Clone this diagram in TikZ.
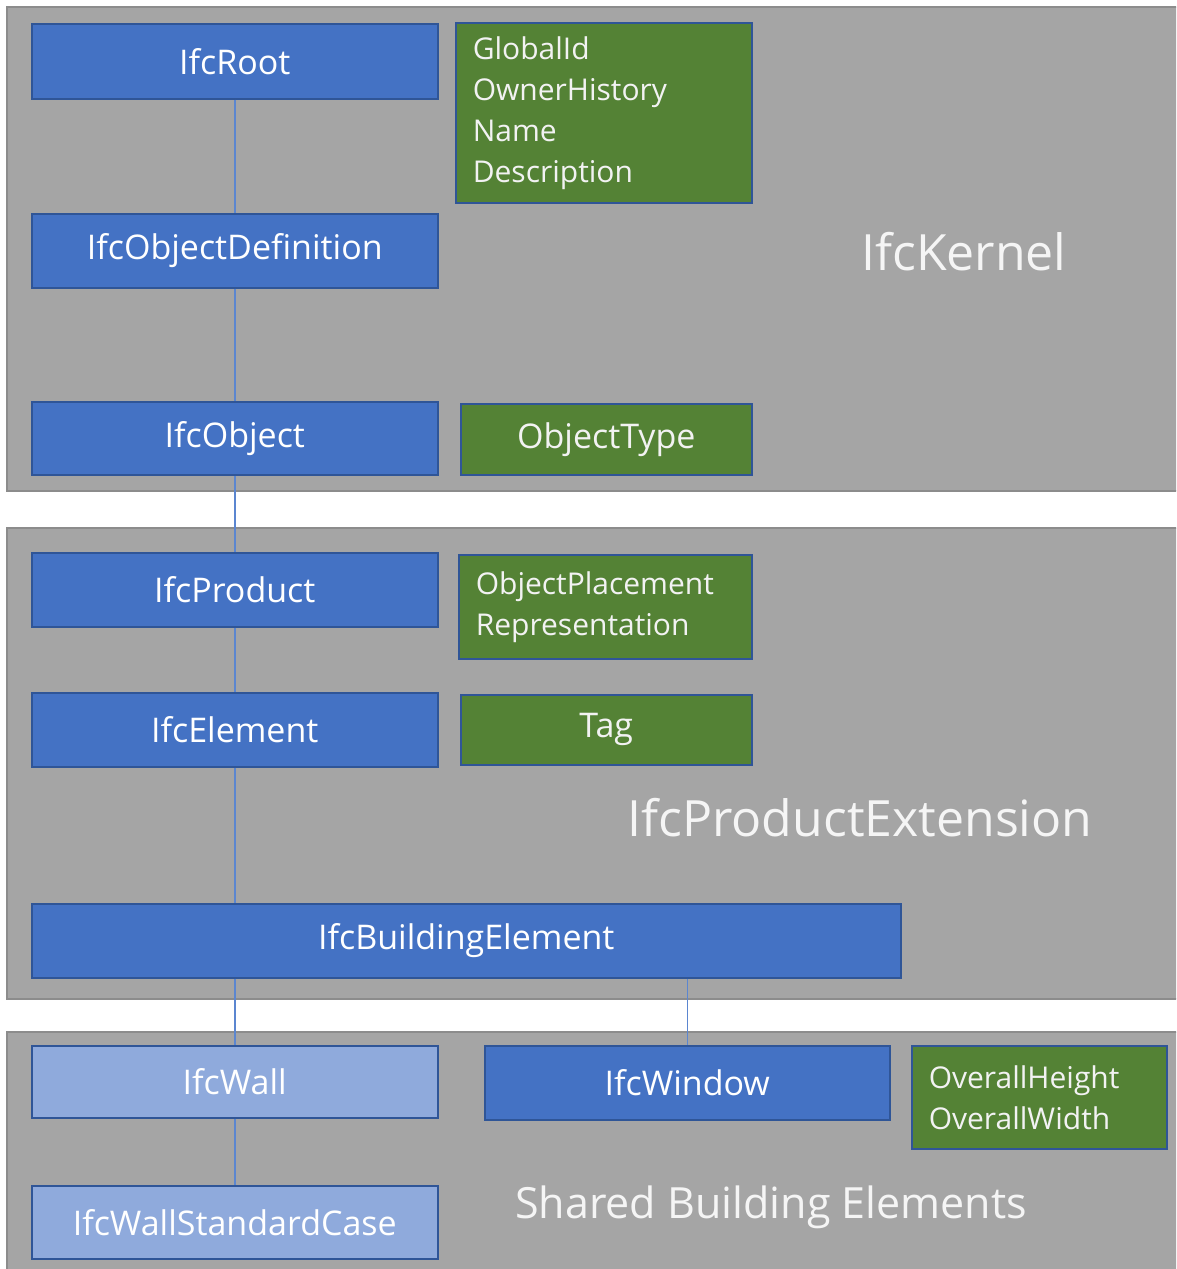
\documentclass[tikz,border=0pt]{standalone}
\usepackage{fontspec}
\setmainfont{Open Sans}
\definecolor{panelgray}{HTML}{A5A5A5}
\definecolor{paneledge}{HTML}{8C8C8C}
\definecolor{ifcblue}{HTML}{4472C4}
\definecolor{ifcedge}{HTML}{2F5597}
\definecolor{ifclight}{HTML}{8FAADC}
\definecolor{ifcgreen}{HTML}{548235}
\definecolor{linkblue}{HTML}{5B86D0}
\tikzset{
  x=1pt, y=-1pt,
  panel/.style={fill=panelgray, draw=paneledge, line width=1.5pt},
  cls/.style={fill=ifcblue, draw=ifcedge, line width=1.5pt, anchor=north west,
    inner sep=0pt, text=white, font=\fontsize{34}{40}\selectfont},
  lightcls/.style={cls, fill=ifclight},
  attr/.style={fill=ifcgreen, draw=ifcedge, line width=1.5pt, anchor=north west,
    inner sep=0pt, text=white!95!black, font=\fontsize{30}{41}\selectfont},
  attrl/.style={attr, align=left, inner xsep=17pt},
  paneltitle/.style={text=white!96!black, inner sep=0pt},
  link/.style={draw=linkblue, line width=1.5pt},
}
\begin{document}
\begin{tikzpicture}
\useasboundingbox (0,0) rectangle (1176,1269);
\clip (0,0) rectangle (1176,1269);
\fill[white] (0,0) rectangle (1176,1269);
% panels
\draw[panel] (7,7) rectangle (1190,491);
\draw[panel] (7,528) rectangle (1190,999);
\draw[panel] (7,1032) rectangle (1190,1290);
% panel titles
\node[paneltitle, font=\fontsize{50}{56}\selectfont] (tkernel) at (964,252) {IfcKernel};
\node[paneltitle, font=\fontsize{50}{56}\selectfont] (tprodext) at (860,818) {IfcProductExtension};
\node[paneltitle, font=\fontsize{43}{50}\selectfont] (tshared) at (771,1207) {Shared Building Elements};
% class boxes
\node[cls, minimum width=406pt, minimum height=75pt] (root) at (31,23) {IfcRoot};
\node[cls, minimum width=406pt, minimum height=74pt] (objdef) at (31,213) {IfcObjectDefinition};
\node[cls, minimum width=406pt, minimum height=73pt] (object) at (31,401) {IfcObject};
\node[cls, minimum width=406pt, minimum height=74pt] (product) at (31,552) {IfcProduct};
\node[cls, minimum width=406pt, minimum height=74pt] (element) at (31,692) {IfcElement};
\node[cls, minimum width=869pt, minimum height=74pt] (buildel) at (31,903) {IfcBuildingElement};
\node[lightcls, minimum width=406pt, minimum height=72pt] (wall) at (31,1045) {IfcWall};
\node[lightcls, minimum width=406pt, minimum height=73pt] (wallsc) at (31,1185) {IfcWallStandardCase};
\node[cls, minimum width=405pt, minimum height=74pt] (window) at (484,1045) {IfcWindow};
% attribute boxes
\node[attrl, text width=262pt, minimum height=180pt] (rootattr) at (455,22)
  {GlobalId\\OwnerHistory\\Name\\Description};
\node[attr, font=\fontsize{34}{40}\selectfont, minimum width=291pt, minimum height=71pt] (objattr) at (460,403) {ObjectType};
\node[attrl, text width=259pt, minimum height=104pt] (prodattr) at (458,554)
  {ObjectPlacement\\Representation};
\node[attr, font=\fontsize{34}{40}\selectfont, minimum width=291pt, minimum height=70pt] (elattr) at (460,694) {Tag};
\node[attrl, text width=221pt, minimum height=103pt] (winattr) at (911,1045)
  {OverallHeight\\OverallWidth};
% connectors
\draw[link] (root.south) -- (objdef.north);
\draw[link] (objdef.south) -- (object.north);
\draw[link] (object.south) -- (product.north);
\draw[link] (product.south) -- (element.north);
\draw[link] (element.south) -- (element.south |- buildel.north);
\draw[link] (wall.north |- buildel.south) -- (wall.north);
\draw[link] (window.north |- buildel.south) -- (window.north);
\draw[link] (wall.south) -- (wallsc.north);
\end{tikzpicture}
\end{document}
